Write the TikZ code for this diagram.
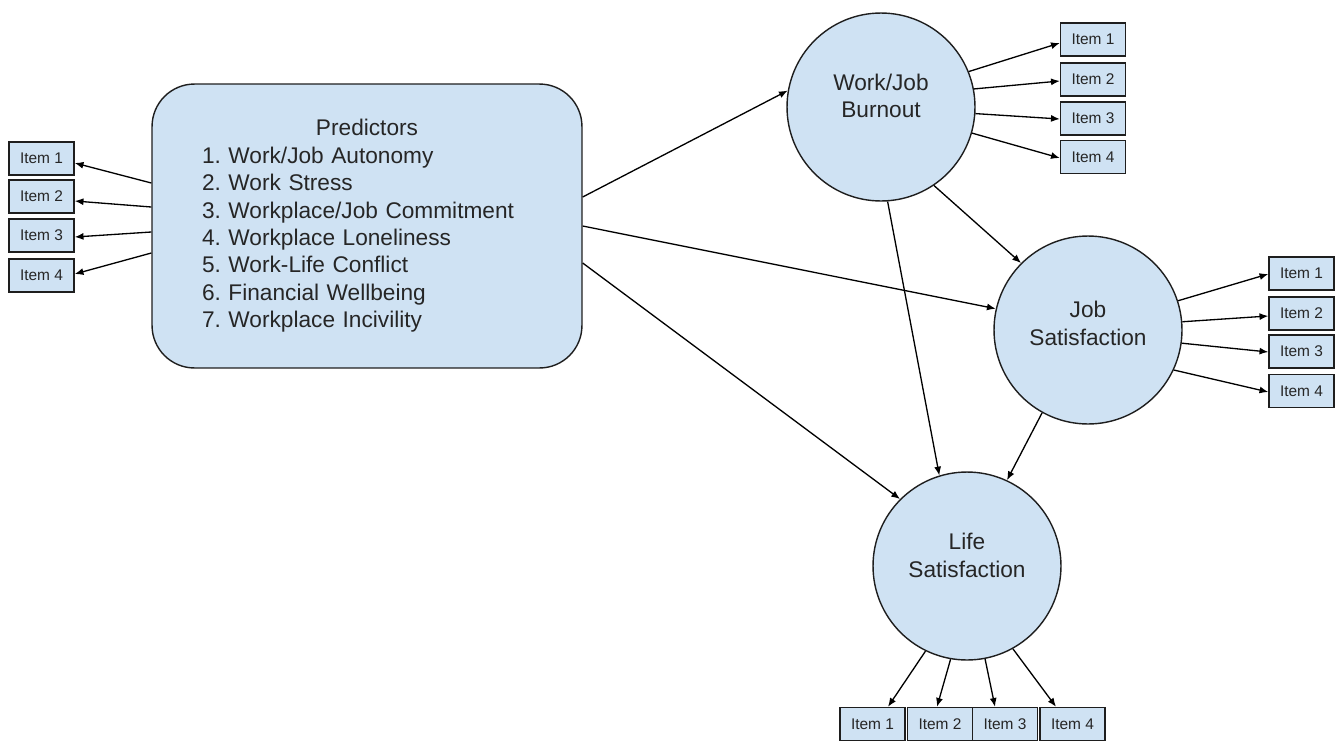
\documentclass[tikz,border=0pt]{standalone}
\usepackage{fontspec}
\setmainfont{Liberation Sans}
\usetikzlibrary{arrows.meta}
\frenchspacing

\definecolor{boxblue}{HTML}{CFE2F3}
\definecolor{edgegray}{HTML}{1E1E1E}
\newcommand{\mainsize}{\fontsize{12.9}{15.6}\selectfont}

\tikzset{
  item/.style={draw=edgegray, fill=boxblue, line width=0.8pt, minimum width=1.3cm, minimum height=0.66cm, inner sep=0pt, text=black!85, font=\fontsize{8.8}{10}\selectfont},
  latent/.style={circle, draw=edgegray, fill=boxblue, line width=0.8pt, minimum size=3.76cm, inner sep=0pt},
  ctext/.style={align=center, text=black!85, font=\mainsize},
  predbox/.style={draw=edgegray, fill=boxblue, line width=0.8pt, rounded corners=0.85cm, minimum width=8.6cm, minimum height=5.68cm, inner sep=0pt, align=left, text=black!85, font=\mainsize}
}

\begin{document}
\begin{tikzpicture}[x=0.02cm, y=-0.02cm, line width=0.75pt, >={Latex[length=5pt,width=4pt]}]
    \useasboundingbox (0,0) rectangle (1335,741);

    % Predictors
    \node[predbox, text width=6.6cm] (pred) at (367,226) {\makebox[\hsize]{Predictors}\\
      1. Work/Job Autonomy\\
      2. Work Stress\\
      3. Workplace/Job Commitment\\
      4. Workplace Loneliness\\
      5. Work-Life Conflict\\
      6. Financial Wellbeing\\
      7. Workplace Incivility};
    \node[item] (l1) at (41.5,158.5) {Item 1};
    \node[item] (l2) at (41.5,196.5) {Item 2};
    \node[item] (l3) at (41.5,235.5) {Item 3};
    \node[item] (l4) at (41.5,275.5) {Item 4};
    \foreach \i/\ys/\ye in {1/183/163, 2/207/201, 3/232/237, 4/253/274}
        \draw[->] (pred.west |- 0,\ys) -- (l\i.east |- 0,\ye);

    % Work/Job Burnout
    \node[latent] (burn) at (881,107) {};
    \node[ctext] (burntxt) at (881,96) {Work/Job\\Burnout};
    \node[item] (b1) at (1093,39.5) {Item 1};
    \node[item] (b2) at (1093,79.5) {Item 2};
    \node[item] (b3) at (1093,118.5) {Item 3};
    \node[item] (b4) at (1093,157) {Item 4};
    \foreach \i/\a/\ye in {1/22/43, 2/11/81, 3/-4/119, 4/-16/158}
        \draw[->] (burn.\a) -- (b\i.west |- 0,\ye);

    % Job Satisfaction
    \node[latent] (job) at (1088,330) {};
    \node[ctext] (jobtxt) at (1088,323.5) {Job\\Satisfaction};
    \node[item] (j1) at (1301.5,273.5) {Item 1};
    \node[item] (j2) at (1301.5,313.5) {Item 2};
    \node[item] (j3) at (1301.5,351.5) {Item 3};
    \node[item] (j4) at (1301.5,391) {Item 4};
    \foreach \i/\a/\ye in {1/18/274, 2/5/316, 3/-8/352, 4/-25/392}
        \draw[->] (job.\a) -- (j\i.west |- 0,\ye);

    % Life Satisfaction
    \node[latent] (life) at (967,566) {};
    \node[ctext] (lifetxt) at (967,555.5) {Life\\Satisfaction};
    \node[item] (f1) at (872.5,724) {Item 1};
    \node[item] (f2) at (940,724) {Item 2};
    \node[item] (f3) at (1005,724) {Item 3};
    \node[item] (f4) at (1072.5,724) {Item 4};
    \foreach \i/\a/\xe in {1/244/888, 2/260/937, 3/281/995, 4/299/1056}
        \draw[->] (life.\a) -- (\xe,0 |- f\i.north);

    % Structural paths
    \draw[->] (pred.east |- 0,197) -- (burn.170);
    \draw[->] (pred.east |- 0,226) -- (job.167);
    \draw[->] (pred.east |- 0,263) -- (life.135);
    \draw[->] (burn.-56) -- (job.135);
    \draw[->] (burn.-86) -- (life.107);
    \draw[->] (job.-119) -- (life.65);
\end{tikzpicture}
\end{document}
